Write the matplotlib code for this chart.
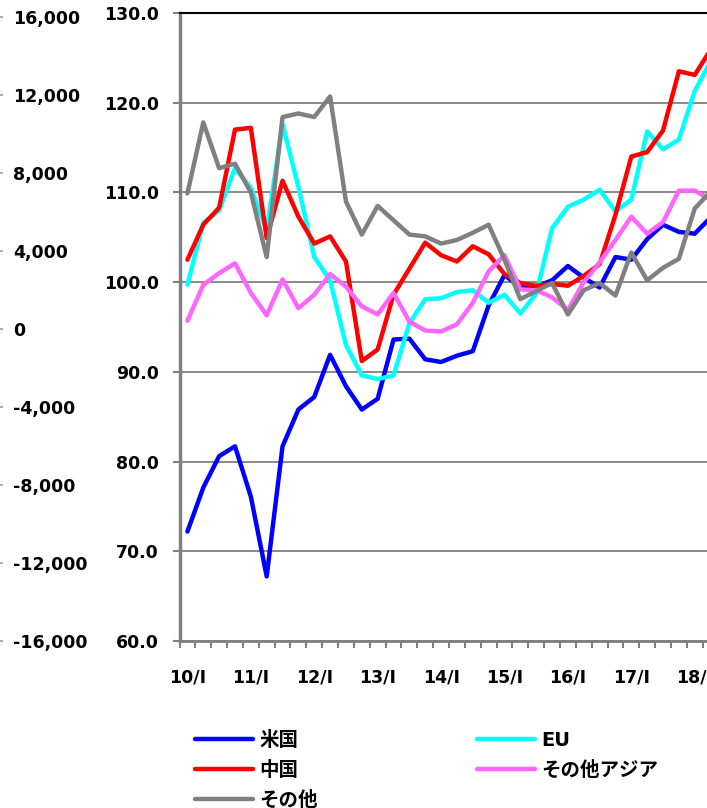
import matplotlib
matplotlib.use('Agg')
import matplotlib.pyplot as plt
import numpy as np

plt.rcParams['axes.unicode_minus'] = False
plt.rcParams['font.family'] = ['DejaVu Sans', 'Noto Sans CJK JP']
plt.rcParams['font.weight'] = 'bold'
plt.rcParams['lines.solid_capstyle'] = 'round'

# quarterly index values, 2010 Q1 onwards
quarters = list(range(34))
year_labels = ['10/I', '11/I', '12/I', '13/I', '14/I', '15/I', '16/I', '17/I', '18/I']

us = [72.2, 77.1, 80.6, 81.7, 76.1, 67.2, 81.7, 85.8, 87.2, 91.9,
      88.4, 85.8, 87.0, 93.6, 93.7, 91.4, 91.1, 91.8, 92.3, 97.4,
      100.8, 99.4, 99.5, 100.2, 101.8, 100.5, 99.4, 102.8, 102.5, 104.8,
      106.4, 105.6, 105.4, 107.2]
eu = [99.7, 106.6, 108.0, 112.7, 110.5, 105.8, 117.6, 110.6, 102.8, 100.2,
      93.0, 89.6, 89.2, 89.6, 95.4, 98.1, 98.2, 98.9, 99.1, 97.7,
      98.6, 96.5, 98.7, 106.0, 108.4, 109.2, 110.3, 107.9, 109.2, 116.8,
      114.8, 115.9, 121.3, 124.6]
cn = [102.5, 106.4, 108.3, 117.0, 117.2, 104.9, 111.3, 107.3, 104.3, 105.1,
      102.3, 91.2, 92.5, 98.6, 101.5, 104.4, 103.0, 102.3, 104.0, 103.1,
      100.9, 99.9, 99.6, 99.8, 99.6, 100.7, 102.0, 107.5, 114.0, 114.5,
      116.9, 123.5, 123.1, 125.9]
asia = [95.7, 99.7, 101.0, 102.1, 98.8, 96.3, 100.3, 97.1, 98.6, 100.9,
        99.5, 97.3, 96.4, 98.8, 95.6, 94.6, 94.5, 95.3, 97.7, 101.2,
        103.0, 99.2, 99.1, 98.3, 96.9, 100.0, 102.2, 104.7, 107.3, 105.4,
        106.7, 110.2, 110.2, 109.2]
other = [109.9, 117.8, 112.7, 113.2, 110.0, 102.8, 118.4, 118.8, 118.4, 120.7,
         109.0, 105.3, 108.5, 106.9, 105.3, 105.1, 104.3, 104.7, 105.5, 106.4,
         102.5, 98.1, 99.0, 99.9, 96.4, 99.1, 99.9, 98.5, 103.3, 100.2,
         101.6, 102.6, 108.2, 110.1]

main_ticks = np.arange(60, 131, 10)
sub_ticks = np.arange(-16000, 16001, 4000)

W, H = 707, 808
fig = plt.figure(figsize=(W / 100, H / 100), dpi=100)
ax = fig.add_axes([179.5 / W, 1 - 641 / H, 539 / W, 628 / H])

lw = 3.2
l_us, = ax.plot(quarters, us, color='#0000FF', lw=lw, label='米国', zorder=3)
l_eu, = ax.plot(quarters, eu, color='#00FFFF', lw=lw, label='EU', zorder=3)
l_cn, = ax.plot(quarters, cn, color='#FF0000', lw=lw, label='中国', zorder=3)
l_as, = ax.plot(quarters, asia, color='#FF66FF', lw=lw, label='その他アジア', zorder=3)
l_ot, = ax.plot(quarters, other, color='#808080', lw=lw, label='その他', zorder=3)

ax.set_ylim(60, 130)
ax.set_yticks(main_ticks)
ax.set_yticklabels([f'{v:.1f}' for v in main_ticks])
ax.tick_params(axis='y', length=5, width=1.5, color='#808080', pad=10, labelsize=12.5)
ax.grid(axis='y', color='#808080', lw=1.3)
ax.set_axisbelow(True)

ax.set_xlim(-0.5, 33.5)
ax.set_xticks(np.arange(-0.5, 34, 1), minor=True)
ax.set_xticks(quarters[::4])
ax.set_xticklabels(year_labels)
ax.tick_params(axis='x', which='major', length=0, pad=20, labelsize=12.5)
ax.tick_params(axis='x', which='minor', length=5, width=1.5, color='#808080')

ax.spines['left'].set_color('#808080')
ax.spines['left'].set_linewidth(2.5)
ax.spines['bottom'].set_color('#808080')
ax.spines['bottom'].set_linewidth(2)
ax.spines['top'].set_color('black')
ax.spines['top'].set_linewidth(1.5)
ax.spines['top'].set_zorder(5)
ax.spines['right'].set_visible(False)

# second value axis at the far left edge
ax2 = ax.twinx()
ax2.set_ylim(-16000, 16205)
ax2.set_yticks(sub_ticks)
ax2.set_yticklabels([f'{v:,}' for v in sub_ticks])
ax2.spines['right'].set_position(('axes', -179.5 / 539))
for s in ax2.spines.values():
    s.set_visible(False)
ax2.tick_params(axis='y', length=2.5, width=1.2, color='#a0a0a0', pad=7, labelsize=12.5)

handles = [l_us, l_cn, l_ot, l_eu, l_as]
fig.legend(handles, [h.get_label() for h in handles], loc='upper left',
           bbox_to_anchor=(195 / W, 1 - 731 / H), ncol=2, frameon=False,
           borderpad=0, borderaxespad=0, handlelength=3.0, handletextpad=0.3,
           columnspacing=8.2, labelspacing=0.55,
           prop=dict(family=['DejaVu Sans', 'Noto Sans CJK JP'], weight='bold', size=14))

fig.savefig('out.png', dpi=100)
